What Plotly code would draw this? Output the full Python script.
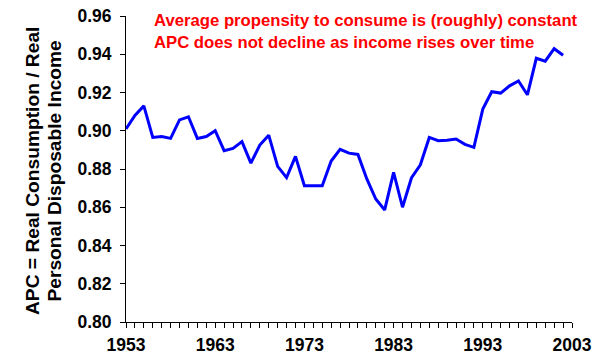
import plotly.graph_objects as go

years = list(range(1953, 2003))
apc = [0.901, 0.908, 0.913, 0.8965, 0.897, 0.896, 0.9057, 0.9073, 0.896, 0.897,
       0.900, 0.8896, 0.8908, 0.8943, 0.8831, 0.8925, 0.8977, 0.8814, 0.8755, 0.8866,
       0.8713, 0.8713, 0.8713, 0.8842, 0.8903, 0.8883, 0.8876, 0.8748, 0.8643, 0.8586,
       0.8782, 0.8600, 0.8753, 0.8822, 0.8965, 0.8948, 0.8950, 0.8957, 0.8929, 0.8913,
       0.9113, 0.9204, 0.9197, 0.9235, 0.9260, 0.9188, 0.9379, 0.9364, 0.9429, 0.9395]
y_ticks = [0.80, 0.82, 0.84, 0.86, 0.88, 0.90, 0.92, 0.94, 0.96]
x_ticks = [1953, 1963, 1973, 1983, 1993, 2003]
y_title_lines = ["APC = Real Consumption / Real", "Personal Disposable Income"]
note = "Average propensity to consume is (roughly) constant<br>APC does not decline as income rises over time"

FONT = "Liberation Sans, Arial, sans-serif"

fig = go.Figure()
fig.add_trace(go.Scatter(x=years, y=apc, mode="lines",
                         line=dict(color="#0000FF", width=3)))

W, H = 597, 361
L, R, T, B = 126, 25, 16, 39
pw = W - L - R
ph = H - T - B

tickfont = dict(family=FONT, size=17.5, color="black", weight="bold")

annotations = []
for xc, line in zip([32, 53.5], y_title_lines):
    annotations.append(dict(
        text=line, xref="paper", yref="paper",
        x=(xc - L) / pw, y=(H - B - 171) / ph, xanchor="center", yanchor="middle",
        textangle=-90, showarrow=False,
        font=dict(family=FONT, size=19.2, color="black", weight="bold")))
annotations.append(dict(
    text=note, xref="paper", yref="paper",
    x=(152 - L) / pw, y=(H - B - 9) / ph, xanchor="left", yanchor="top",
    showarrow=False, align="left",
    font=dict(family=FONT, size=16.7, color="#FF0000", weight="bold")))

fig.update_layout(
    width=W, height=H,
    margin=dict(l=L, r=R, t=T, b=B, pad=0, autoexpand=False),
    plot_bgcolor="white", paper_bgcolor="white",
    showlegend=False,
    font=dict(family=FONT, size=17, color="black", weight="bold"),
    xaxis=dict(range=[1953, 2003], tickvals=x_ticks, ticks="outside", ticklen=5,
               tickwidth=1, tickcolor="black", showline=True, linecolor="black",
               linewidth=1, showgrid=False, zeroline=False, ticklabelstandoff=2,
               automargin=False,
               minor=dict(dtick=1, tick0=1953, ticks="outside", ticklen=5,
                          tickcolor="black", tickwidth=1, showgrid=False),
               tickfont=tickfont),
    yaxis=dict(range=[0.80, 0.96], tickvals=y_ticks, tickformat=".2f",
               ticks="outside", ticklen=5, tickwidth=1, tickcolor="black",
               showline=True, linecolor="black", linewidth=1, showgrid=False,
               zeroline=False, ticklabelstandoff=5, automargin=False,
               tickfont=tickfont),
    annotations=annotations,
)

fig.write_html("out.html")
